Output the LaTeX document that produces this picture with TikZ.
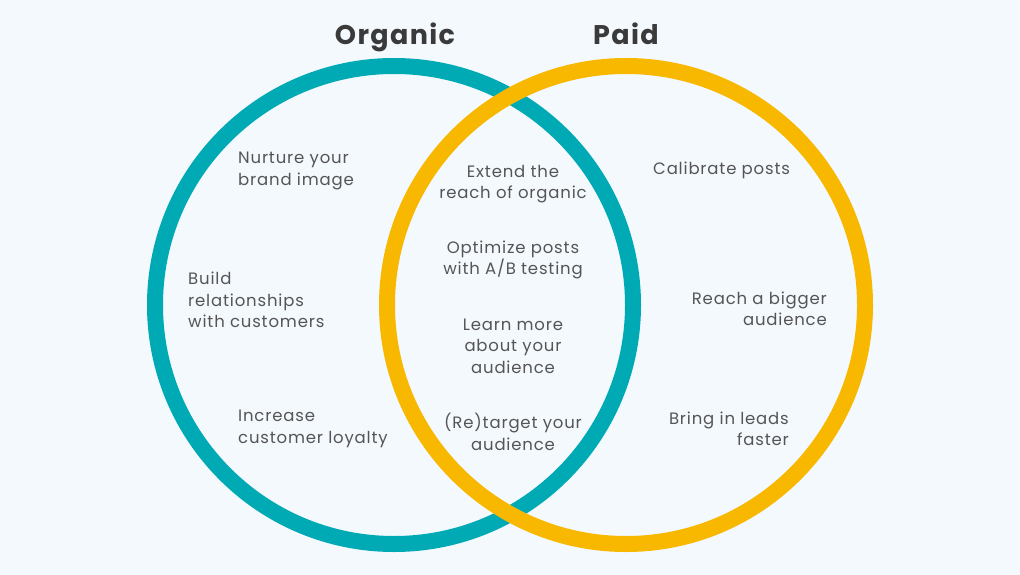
\documentclass[tikz,border=0pt]{standalone}
\usepackage{fontspec}
\setmainfont{Poppins}[LetterSpace=5]
\definecolor{vnback}{RGB}{244,249,254}
\definecolor{vnteal}{RGB}{0,170,181}
\definecolor{vnyellow}{RGB}{249,184,0}
\definecolor{vntext}{RGB}{85,85,85}
\definecolor{vntitle}{RGB}{58,58,58}
\usetikzlibrary{positioning}

\begin{document}
\begin{tikzpicture}[x=1pt, y=-1pt,
  ring/.style={line width=16pt},
  title/.style={font=\fontsize{27}{30}\selectfont\bfseries, text=vntitle, anchor=base},
  item/.style={font=\fontsize{16.5}{21.5}\selectfont, text=vntext, inner sep=0pt}]
  \fill[vnback] (0,0) rectangle (1020,575);
  \useasboundingbox (0,0) rectangle (1020,575);
  % the two sets
  \draw[ring, vnteal] (394,305) circle[radius=239];
  \draw[ring, vnyellow] (626,305) circle[radius=239];
  \node[title] (organic) at (395,45) {Organic};
  \node[title] (paid) at (626,45) {Paid};
  % organic only
  \node[item, anchor=west, align=left] (nurture) at (238,171) {Nurture your\\brand image};
  \node[item, anchor=west, align=left] (build) at (188,300) {Build\\relationships\\with customers};
  \node[item, anchor=west, align=left] (loyalty) at (238,429) {Increase\\customer loyalty};
  % both
  \node[item, align=center] (extend) at (513,184) {Extend the\\reach of organic};
  \node[item, align=center] (optimize) at (513,260) {Optimize posts\\with A/B testing};
  \node[item, align=center] (learn) at (513,346) {Learn more\\about your\\audience};
  \node[item, align=center] (retarget) at (513,432) {(Re)target your\\audience};
  % paid only
  \node[item, anchor=west, align=left] (calibrate) at (653,170) {Calibrate posts};
  \node[item, anchor=east, align=right] (reach) at (827,309) {Reach a bigger\\audience};
  \node[item, anchor=east, align=right] (leads) at (789,429) {Bring in leads\\faster};
\end{tikzpicture}
\end{document}
